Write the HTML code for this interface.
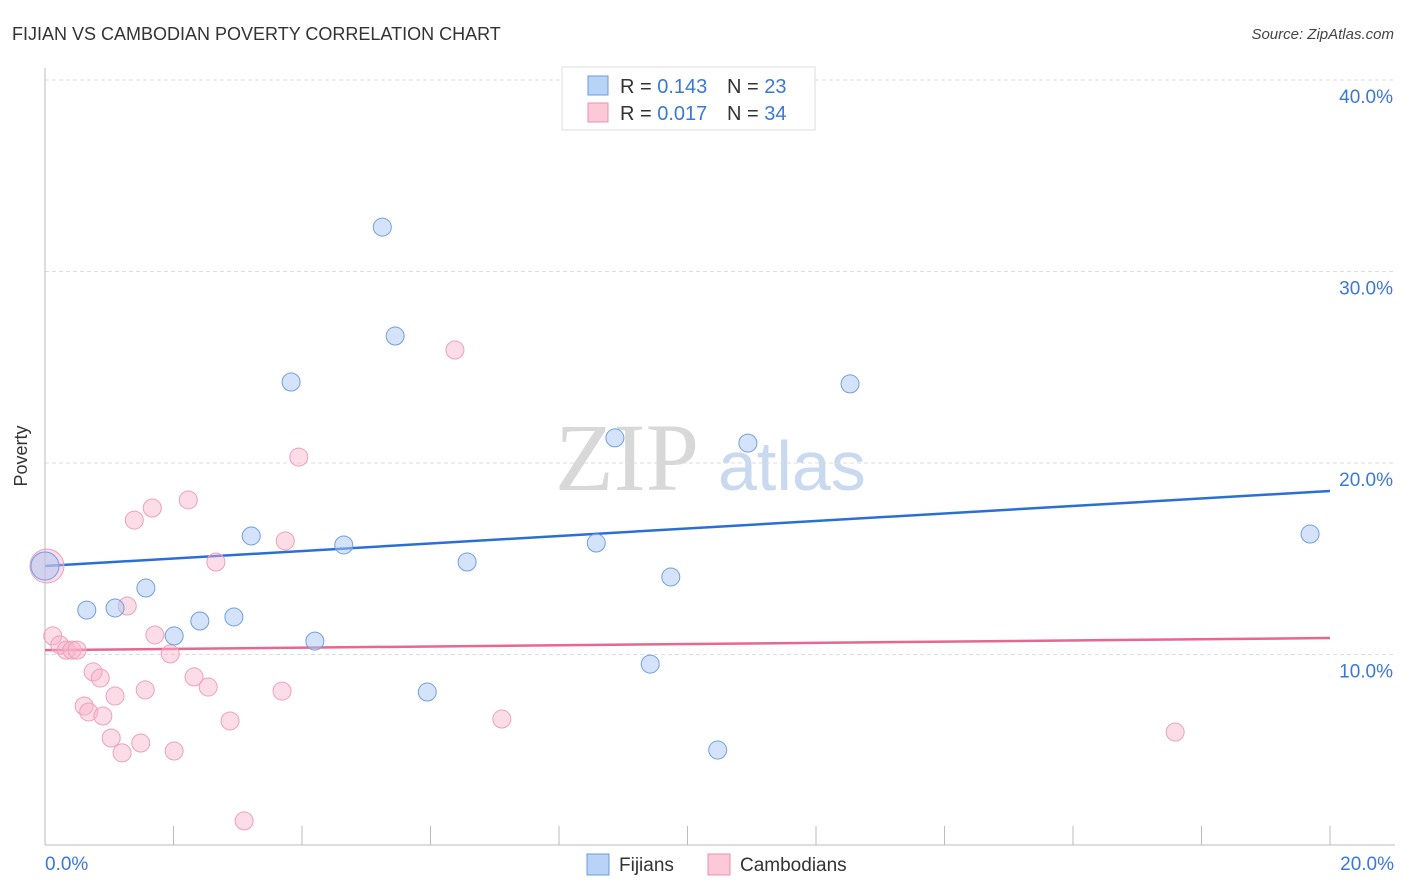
<!DOCTYPE html>
<html><head><meta charset="utf-8"><style>
body{margin:0;background:#fff;font-family:"Liberation Sans",sans-serif;}
svg{display:block}
</style></head><body>
<svg id="chart" width="1406" height="892">
<text x="12" y="40" font-size="18" fill="#333">FIJIAN VS CAMBODIAN POVERTY CORRELATION CHART</text>
<text x="1394" y="39" font-size="15" fill="#444" font-style="italic" text-anchor="end">Source: ZipAtlas.com</text>
<g>
<text x="555" y="490" font-family="Liberation Serif,serif" font-size="96" fill="#d8d8d8">ZIP</text>
<text x="718" y="490" font-size="70" fill="#c9d9f0">atlas</text>
</g>
<g id="grid"></g>
<line x1="45" y1="68" x2="45" y2="845" stroke="#bbb"/>
<line x1="45" y1="845" x2="1395" y2="845" stroke="#bbb"/>
<g id="xticks"></g>
<text x="27" y="456" font-size="18" fill="#333" transform="rotate(-90 27 456)" text-anchor="middle">Poverty</text>
<g id="trend"></g>
<g id="pts"></g>
<g>
<rect x="562" y="67" width="253" height="63" fill="#fff" stroke="#ddd"/>
<rect x="588" y="76" width="20" height="19" fill="#b8d3f5" stroke="#6a9be0"/>
<rect x="588" y="103" width="20" height="19" fill="#fbc9d8" stroke="#ec8fb0"/>
<text x="620" y="93" font-size="20" fill="#333">R = <tspan fill="#3a78d8">0.143</tspan></text>
<text x="727" y="93" font-size="20" fill="#333">N = <tspan fill="#3a78d8">23</tspan></text>
<text x="620" y="120" font-size="20" fill="#333">R = <tspan fill="#3a78d8">0.017</tspan></text>
<text x="727" y="120" font-size="20" fill="#333">N = <tspan fill="#3a78d8">34</tspan></text>
</g>
<g>
<rect x="587" y="854" width="22" height="21" fill="#b8d3f5" stroke="#6a9be0"/>
<text x="619" y="871" font-size="19" fill="#333">Fijians</text>
<rect x="708" y="854" width="22" height="21" fill="#fbc9d8" stroke="#ec8fb0"/>
<text x="740" y="871" font-size="19" fill="#333">Cambodians</text>
</g>
<text x="45" y="870" font-size="19" fill="#3a78d8">0.0%</text>
<text x="1394" y="870" font-size="19" fill="#3a78d8" text-anchor="end">20.0%</text>
</svg>
<script>
const yTicks=[10,20,30,40];
const yTickLabels=["10.0%","20.0%","30.0%","40.0%"];
const xTicks=[0,2,4,6,8,10,12,14,16,18,20];
const fijiX=[0,0.65,1.09,1.57,2.01,2.41,2.94,3.21,3.83,4.20,4.65,5.25,5.45,5.95,6.57,8.58,8.87,9.42,9.74,10.47,10.94,12.53,19.69];
const fijiY=[14.62,12.32,12.43,13.47,10.97,11.75,11.96,16.19,24.23,10.70,15.72,32.32,26.63,8.04,14.83,15.82,21.31,9.50,14.05,5.01,21.04,24.13,16.29];
const cambX=[0.03,0.12,0.23,0.33,0.42,0.50,0.75,0.86,0.61,0.68,0.90,1.09,1.03,1.20,1.28,1.39,1.49,1.56,1.67,1.71,1.95,2.01,2.23,2.32,2.54,2.66,2.88,3.10,3.69,3.74,3.95,6.38,7.11,17.59];
const cambY=[14.62,10.97,10.50,10.23,10.23,10.23,9.09,8.77,7.31,7.00,6.79,7.83,5.64,4.86,12.53,17.02,5.38,8.15,17.65,11.02,10.03,4.96,18.07,8.83,8.30,14.83,6.53,1.31,8.09,15.93,20.31,25.90,6.63,5.95];
const fijiTrend=[14.62,18.54];
const cambTrend=[10.23,10.86];
const NS="http://www.w3.org/2000/svg";
const sx=v=>45+v*64.25, sy=v=>846-v*19.15;
function mk(tag,attrs,parent){const e=document.createElementNS(NS,tag);for(const k in attrs)e.setAttribute(k,attrs[k]);document.getElementById(parent).appendChild(e);return e;}
yTicks.forEach((t,i)=>{
 const l=mk('line',{x1:45,x2:1395,y1:sy(t),y2:sy(t),stroke:'#ddd','stroke-dasharray':'4 3'},'grid');
 
 
 const tx=mk('text',{x:1393,y:sy(t)+23,'font-size':19,fill:'#3a78d8','text-anchor':'end'},'grid');
 tx.textContent=yTickLabels[i];
 
 
});
xTicks.forEach(t=>{
 const l=mk('line',{x1:sx(t),x2:sx(t),y1:826,y2:845,stroke:'#bbb'},'xticks');
 
 
});
const t1=mk('line',{x1:sx(0),x2:sx(20),y1:sy(fijiTrend[0]),y2:sy(fijiTrend[1]),stroke:'#2a6fd6','stroke-width':2.5},'trend');


const t2=mk('line',{x1:sx(0),x2:sx(20),y1:sy(cambTrend[0]),y2:sy(cambTrend[1]),stroke:'#e8668f','stroke-width':2.5},'trend');


cambX.forEach((x,i)=>{
 const c=mk('circle',{cx:sx(x),cy:sy(cambY[i]),r:i==0?17:9,fill:'rgba(248,180,202,0.45)',stroke:'#eea0ba','stroke-width':1},'pts');
 
 
});
fijiX.forEach((x,i)=>{
 const c=mk('circle',{cx:sx(x),cy:sy(fijiY[i]),r:i==0?14:9,fill:'rgba(170,200,245,0.5)',stroke:'#6f9fe0','stroke-width':1},'pts');
 
 
});
</script>
</body></html>
